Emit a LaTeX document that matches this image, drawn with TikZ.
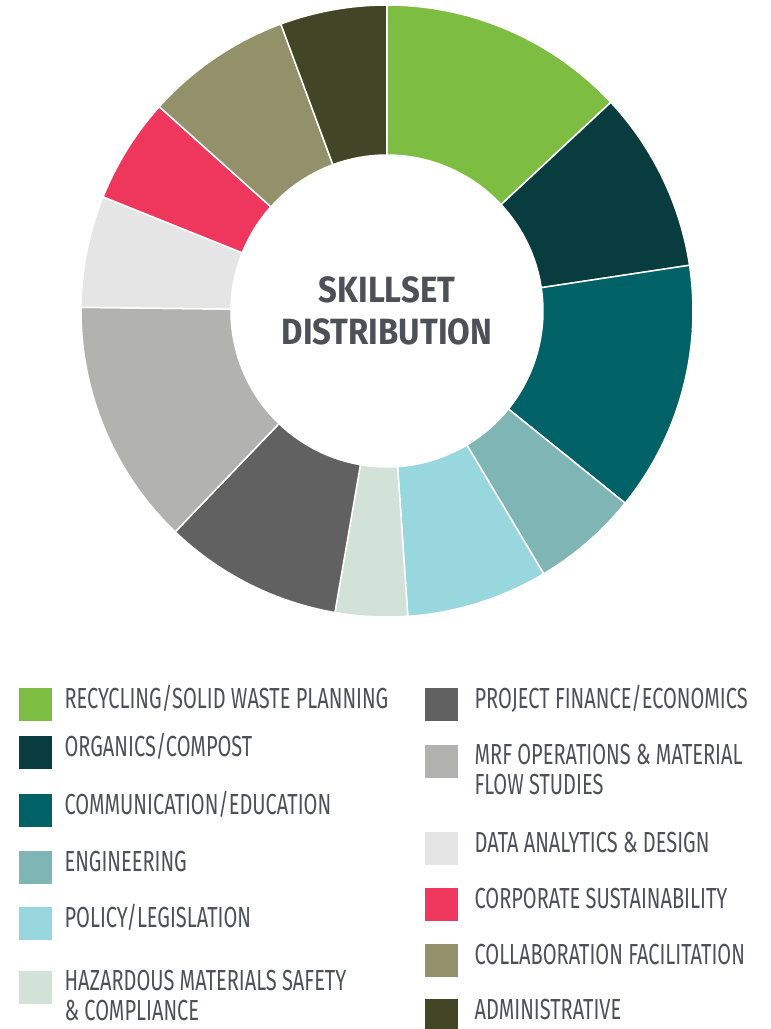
\documentclass[tikz,border=0pt]{standalone}
\usepackage{fontspec}
\newfontfamily\legendfont{Fira Sans}[FakeStretch=0.69]
\newfontfamily\titlefont{Fira Sans}[FakeStretch=0.9]

\definecolor{recycling}{HTML}{7DBD42}
\definecolor{organics}{HTML}{083C3F}
\definecolor{communication}{HTML}{006167}
\definecolor{engineering}{HTML}{7FB5B4}
\definecolor{policy}{HTML}{98D7DE}
\definecolor{hazardous}{HTML}{D3E2D9}
\definecolor{finance}{HTML}{616161}
\definecolor{mrf}{HTML}{B2B3B0}
\definecolor{datagray}{HTML}{E5E5E5}
\definecolor{corporate}{HTML}{EF365D}
\definecolor{collab}{HTML}{929169}
\definecolor{admin}{HTML}{434626}
\definecolor{textgray}{HTML}{4E5057}

\begin{document}
\begin{tikzpicture}
	[x=1pt, y=1pt,
	slice/.style={draw=white, line width=1.5pt},
	key/.style={minimum size=33pt, inner sep=0pt, anchor=north west},
	keytext/.style={anchor=base west, inner sep=0pt, text=textgray, align=left,
		font=\legendfont\fontsize{29}{30}\selectfont},
	titletext/.style={text=textgray, align=center, inner sep=0pt,
		font=\titlefont\bfseries\fontsize{36.5}{42}\selectfont}]
	\useasboundingbox (-387,311) rectangle (384,-718);

	% donut, clockwise from the top
	\foreach \a/\b/\c in {90/43/recycling, 43/8.6/organics, 8.6/-38.9/communication,
		-38.9/-59.2/engineering, -59.2/-86.1/policy, -86.1/-99.8/hazardous,
		-99.8/-133.8/finance, -133.8/-180.7/mrf, -180.7/-201.9/datagray,
		-201.9/-221.9/corporate, -221.9/-249.7/collab, -249.7/-270/admin}
		\filldraw[slice, fill=\c] (\a:156pt) arc (\a:\b:156pt) -- (\b:306pt) arc (\b:\a:306pt) -- cycle;

	\node[titletext] (title) at (0,0) {SKILLSET\\DISTRIBUTION};

	% legend, left column
	\node[key, fill=recycling] (kRecycling) at (-368,-377) {};
	\node[keytext] (tRecycling) at ([xshift=12pt,yshift=-20pt]kRecycling.north east) {RECYCLING/SOLID WASTE PLANNING};
	\node[key, fill=organics] (kOrganics) at (-368,-425) {};
	\node[keytext] (tOrganics) at ([xshift=12pt,yshift=-20pt]kOrganics.north east) {ORGANICS/COMPOST};
	\node[key, fill=communication] (kCommunication) at (-368,-483) {};
	\node[keytext] (tCommunication) at ([xshift=12pt,yshift=-20pt]kCommunication.north east) {COMMUNICATION/EDUCATION};
	\node[key, fill=engineering] (kEngineering) at (-368,-540) {};
	\node[keytext] (tEngineering) at ([xshift=12pt,yshift=-20pt]kEngineering.north east) {ENGINEERING};
	\node[key, fill=policy] (kPolicy) at (-368,-596) {};
	\node[keytext] (tPolicy) at ([xshift=12pt,yshift=-20pt]kPolicy.north east) {POLICY/LEGISLATION};
	\node[key, fill=hazardous] (kHazardous) at (-368,-660) {};
	\node[keytext, anchor=north west] (tHazardous) at ([xshift=12pt,yshift=1pt]kHazardous.north east) {HAZARDOUS MATERIALS SAFETY\\\& COMPLIANCE};

	% legend, right column
	\node[key, fill=finance] (kFinance) at (38,-377) {};
	\node[keytext] (tFinance) at ([xshift=16pt,yshift=-20pt]kFinance.north east) {PROJECT FINANCE/ECONOMICS};
	\node[key, fill=mrf] (kMrf) at (38,-434) {};
	\node[keytext, anchor=north west] (tMrf) at ([xshift=16pt,yshift=1pt]kMrf.north east) {MRF OPERATIONS \& MATERIAL\\FLOW STUDIES};
	\node[key, fill=datagray] (kData) at (38,-521) {};
	\node[keytext] (tData) at ([xshift=16pt,yshift=-20pt]kData.north east) {DATA ANALYTICS \& DESIGN};
	\node[key, fill=corporate] (kCorporate) at (38,-577) {};
	\node[keytext] (tCorporate) at ([xshift=16pt,yshift=-20pt]kCorporate.north east) {CORPORATE SUSTAINABILITY};
	\node[key, fill=collab] (kCollab) at (38,-633) {};
	\node[keytext] (tCollab) at ([xshift=16pt,yshift=-20pt]kCollab.north east) {COLLABORATION FACILITATION};
	\node[key, fill=admin] (kAdmin) at (38,-688) {};
	\node[keytext] (tAdmin) at ([xshift=16pt,yshift=-20pt]kAdmin.north east) {ADMINISTRATIVE};
\end{tikzpicture}
\end{document}
